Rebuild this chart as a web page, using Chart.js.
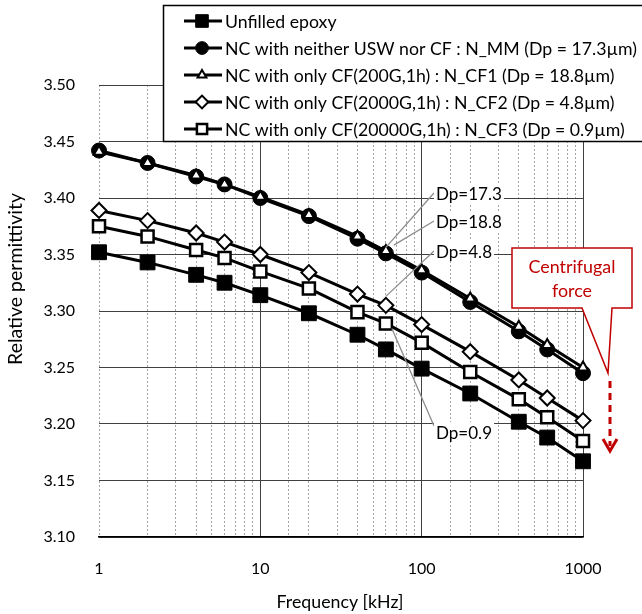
<!DOCTYPE html>
<html>
<head>
<meta charset="utf-8">
<script src="https://cdn.jsdelivr.net/npm/chart.js@4.4.0/dist/chart.umd.min.js"></script>
<style>
  html, body { margin: 0; padding: 0; background: #fff; }
</style>
</head>
<body>
<canvas id="chart" width="642" height="614"></canvas>
<script>
const freq = [1, 2, 4, 6, 10, 20, 40, 60, 100, 200, 400, 600, 1000];
const unfilled = [3.352, 3.343, 3.332, 3.325, 3.314, 3.298, 3.279, 3.266, 3.249, 3.227, 3.202, 3.188, 3.167];
const nMM  = [3.442, 3.431, 3.419, 3.412, 3.400, 3.384, 3.364, 3.351, 3.334, 3.308, 3.282, 3.266, 3.245];
const nCF1 = [3.441, 3.431, 3.420, 3.412, 3.401, 3.385, 3.366, 3.353, 3.336, 3.311, 3.286, 3.270, 3.250];
const nCF2 = [3.389, 3.380, 3.369, 3.361, 3.350, 3.334, 3.315, 3.305, 3.288, 3.264, 3.239, 3.223, 3.203];
const nCF3 = [3.375, 3.366, 3.354, 3.347, 3.335, 3.320, 3.299, 3.289, 3.272, 3.246, 3.222, 3.206, 3.185];
const names = [
  'Unfilled epoxy',
  'NC with neither USW nor CF : N_MM (Dp = 17.3\u00b5m)',
  'NC with only CF(200G,1h) : N_CF1 (Dp = 18.8\u00b5m)',
  'NC with only CF(2000G,1h) : N_CF2 (Dp = 4.8\u00b5m)',
  'NC with only CF(20000G,1h) : N_CF3 (Dp = 0.9\u00b5m)'
];
const xLabels = [1, 10, 100, 1000];
const yTicks = [3.10, 3.15, 3.20, 3.25, 3.30, 3.35, 3.40, 3.45, 3.50];
const dpLabels = ['Dp=17.3', 'Dp=18.8', 'Dp=4.8', 'Dp=0.9'];

const FONT = 'Lato, "Open Sans", sans-serif';
const RED = '#C00000';

function pts(ys) { return freq.map((f, i) => ({ x: f, y: ys[i] })); }

// font size (px) that makes text span the given width
function fitSize(ctx, text, width) {
  ctx.font = '100px ' + FONT;
  return 100 * width / ctx.measureText(text).width;
}

// marker style per series: [pointStyle, radius, fill, borderWidth]
const marks = [
  ['rect', 10.5, '#000', 1],
  ['circle', 7.5, '#000', 1],
  ['triangle', 6, '#fff', 2],
  ['rectRot', 7.5, '#fff', 2],
  ['rect', 8.5, '#fff', 2.5]
];
const series = [unfilled, nMM, nCF1, nCF2, nCF3];
const drawOrder = [3, 5, 1, 2, 4];

const datasets = series.map((s, i) => ({
  label: names[i],
  data: pts(s),
  borderColor: '#000',
  borderWidth: 3,
  pointStyle: marks[i][0],
  pointRadius: marks[i][1],
  pointBackgroundColor: marks[i][2],
  pointBorderColor: '#000',
  pointBorderWidth: marks[i][3],
  order: drawOrder[i],
  clip: false
}));

const isDecade = v => Math.abs(Math.log10(v) - Math.round(Math.log10(v))) < 1e-9;

const overlay = {
  id: 'overlay',
  afterDraw(chart) {
    const ctx = chart.ctx;
    const xs = chart.scales.x, ys = chart.scales.y;
    ctx.save();

    // legend box
    ctx.fillStyle = '#fff';
    ctx.fillRect(163, 5, 490, 137);
    ctx.strokeStyle = '#000';
    ctx.lineWidth = 1.5;
    ctx.strokeRect(163.5, 5.5, 490, 136);
    const legSize = fitSize(ctx, names[1], 412);
    ctx.font = legSize + 'px ' + FONT;
    ctx.textBaseline = 'middle';
    names.forEach((n, i) => {
      const y = 21 + i * 27;
      ctx.strokeStyle = '#000';
      ctx.lineWidth = 3;
      ctx.beginPath(); ctx.moveTo(184, y); ctx.lineTo(222, y); ctx.stroke();
      ctx.fillStyle = marks[i][2];
      ctx.lineWidth = marks[i][3];
      Chart.helpers.drawPoint(ctx, { pointStyle: marks[i][0], radius: marks[i][1] * 0.85, rotation: 0, borderWidth: marks[i][3] }, 202, y);
      ctx.fillStyle = '#000';
      ctx.fillText(n, 225, y + 1);
    });

    // Dp leader lines and labels
    const leaders = [
      [nMM, 7, 436, 193],
      [nCF1, 7, 436, 221],
      [nCF2, 7, 436, 251],
      [nCF3, 7, 436, 432]
    ];
    ctx.font = fitSize(ctx, dpLabels[0], 66) + 'px ' + FONT;
    leaders.forEach(([s, idx, tx, ty], i) => {
      const px = xs.getPixelForValue(freq[idx]);
      const py = ys.getPixelForValue(s[idx]);
      const w = ctx.measureText(dpLabels[i]).width;
      ctx.strokeStyle = '#8c8c8c';
      ctx.lineWidth = 1.3;
      ctx.beginPath();
      if (i === 3) {
        ctx.moveTo(px + 6, py + 5); ctx.lineTo(tx - 2, ty - 6);
      } else {
        ctx.moveTo(px + (i === 1 ? 8 : 0), py - (i === 2 ? 9 : 6)); ctx.lineTo(tx - 2, ty);
      }
      ctx.stroke();
      ctx.fillStyle = '#fff';
      ctx.fillRect(tx - 2, ty - 10, w + 4, 20);
      ctx.fillStyle = '#000';
      ctx.textAlign = 'left';
      ctx.fillText(dpLabels[i], tx, ty + 1);
    });

    // Centrifugal force callout
    ctx.strokeStyle = RED;
    ctx.lineWidth = 1.5;
    ctx.fillStyle = '#fff';
    ctx.beginPath();
    ctx.moveTo(512, 248); ctx.lineTo(632, 248); ctx.lineTo(632, 308);
    ctx.lineTo(612, 308); ctx.lineTo(608, 373); ctx.lineTo(582, 308);
    ctx.lineTo(512, 308); ctx.closePath();
    ctx.fill(); ctx.stroke();
    ctx.fillStyle = RED;
    ctx.textAlign = 'center';
    ctx.font = fitSize(ctx, 'Centrifugal', 87) + 'px ' + FONT;
    ctx.fillText('Centrifugal', 572, 267);
    ctx.fillText('force', 572, 291);

    // dashed arrow
    ctx.lineWidth = 3;
    ctx.setLineDash([7, 5]);
    ctx.beginPath(); ctx.moveTo(610, 381); ctx.lineTo(610, 446); ctx.stroke();
    ctx.setLineDash([]);
    ctx.beginPath(); ctx.moveTo(603, 439); ctx.lineTo(610, 451); ctx.lineTo(617, 439); ctx.stroke();

    // axis titles
    ctx.fillStyle = '#000';
    ctx.textAlign = 'center';
    ctx.font = fitSize(ctx, 'Frequency [kHz]', 127) + 'px ' + FONT;
    ctx.fillText('Frequency [kHz]', 340, 602);
    ctx.font = fitSize(ctx, 'Relative permittivity', 172) + 'px ' + FONT;
    ctx.translate(16, 279);
    ctx.rotate(-Math.PI / 2);
    ctx.fillText('Relative permittivity', 0, 0);
    ctx.restore();
  }
};

new Chart(document.getElementById('chart'), {
  type: 'line',
  data: { datasets },
  options: {
    responsive: false,
    animation: false,
    devicePixelRatio: 1,
    layout: { padding: { top: 85, right: 59, left: 0, bottom: 0 } },
    plugins: { legend: { display: false }, tooltip: { enabled: false } },
    scales: {
      x: {
        type: 'logarithmic',
        min: 1,
        max: 1000,
        afterFit: s => { s.height = 77; },
        border: {
          display: true, color: '#000', width: 1.5,
          dash: c => (c.tick && !isDecade(c.tick.value)) || (c.tick && c.tick.value === 1) ? [2, 2] : []
        },
        grid: {
          drawTicks: false,
          color: c => c.tick && isDecade(c.tick.value) && c.tick.value !== 1 ? '#404040' : '#a6a6a6',
          lineWidth: 1
        },
        ticks: {
          autoSkip: false,
          maxRotation: 0,
          padding: 22,
          color: '#000',
          font: { family: FONT, size: 16 },
          callback: v => xLabels.includes(v) ? String(v) : ''
        }
      },
      y: {
        min: 3.1,
        max: 3.5,
        afterFit: s => { s.width = 99; },
        afterBuildTicks: s => { s.ticks = yTicks.map(v => ({ value: v })); },
        border: { display: false },
        grid: { drawTicks: false, color: '#404040', lineWidth: 1 },
        ticks: {
          padding: 24,
          color: '#000',
          font: { family: FONT, size: 16 },
          callback: v => Number(v).toFixed(2)
        }
      }
    }
  },
  plugins: [overlay]
});
</script>
</body>
</html>
